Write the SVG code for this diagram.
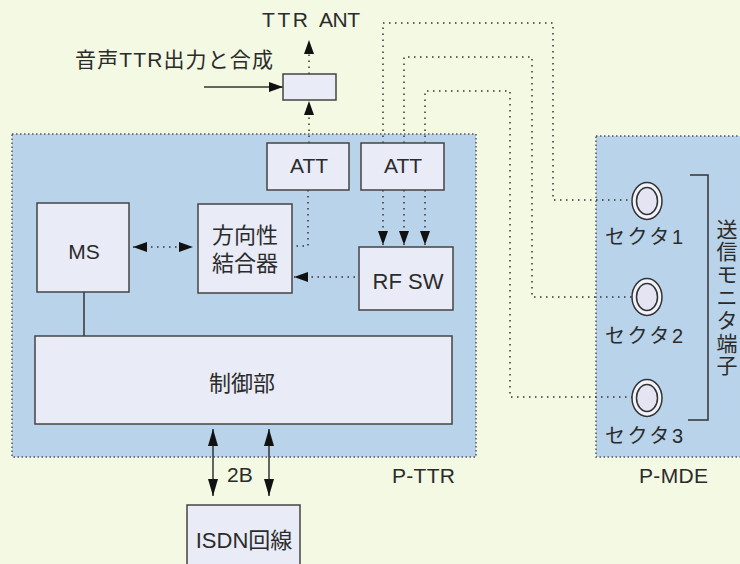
<svg xmlns="http://www.w3.org/2000/svg" width="740" height="564" viewBox="0 0 740 564">
<defs>
<style>
text{font-family:"Liberation Sans","Noto Sans CJK JP",sans-serif;fill:#2b2b2b}
.panel{fill:#b8d3ea;stroke:#555;stroke-width:1.5;stroke-dasharray:1.5 2.5}
.node{fill:#e9ebf6;stroke:#444;stroke-width:1.5}
.dot{fill:none;stroke:#333;stroke-width:1.5;stroke-dasharray:1.5 4.5}
.sol{fill:none;stroke:#333;stroke-width:1.5}
</style>
<marker id="ah" viewBox="0 0 14 10" refX="14" refY="5" markerWidth="14" markerHeight="10" markerUnits="userSpaceOnUse" orient="auto-start-reverse">
<path d="M0,0 L14,5 L0,10 z" fill="#111"/>
</marker>
<marker id="ahb" viewBox="0 0 17 10" refX="17" refY="5" markerWidth="17" markerHeight="10" markerUnits="userSpaceOnUse" orient="auto-start-reverse">
<path d="M0,0 L17,5 L0,10 z" fill="#111"/>
</marker>
</defs>
<rect width="740" height="564" fill="#f3f9e2"/>

<g id="p-ttr">
<rect class="panel" x="12" y="134" width="464" height="323"/>
<text x="392" y="483" font-size="21" textLength="63">P-TTR</text>
</g>
<g id="p-mde">
<rect class="panel" x="596" y="136" width="150" height="321"/>
<text x="639" y="483" font-size="21" textLength="69">P-MDE</text>
</g>

<g id="connectors">
<line class="dot" x1="309" y1="74" x2="309" y2="40" marker-end="url(#ah)"/>
<line class="dot" x1="309" y1="143" x2="309" y2="101" marker-end="url(#ah)"/>
<line class="sol" x1="204" y1="87" x2="283" y2="87" marker-end="url(#ah)"/>
<line class="dot" x1="133" y1="247" x2="193" y2="247" marker-start="url(#ah)" marker-end="url(#ah)"/>
<line class="dot" x1="355" y1="277" x2="294" y2="277" marker-end="url(#ah)"/>
<path class="dot" d="M308,190 V246 H292"/>
<line class="dot" x1="383" y1="190" x2="383" y2="245" marker-end="url(#ah)"/>
<line class="dot" x1="404" y1="190" x2="404" y2="245" marker-end="url(#ah)"/>
<line class="dot" x1="425" y1="190" x2="425" y2="245" marker-end="url(#ah)"/>
<path class="dot" d="M383,143 V23 H553 V200 H632"/>
<path class="dot" d="M404,143 V57 H532 V297 H632"/>
<path class="dot" d="M425,143 V91 H510 V397 H632"/>
<line class="sol" x1="84" y1="292" x2="84" y2="336"/>
<line class="sol" x1="213" y1="429" x2="213" y2="496" marker-start="url(#ahb)" marker-end="url(#ahb)"/>
<line class="sol" x1="269" y1="429" x2="269" y2="496" marker-start="url(#ahb)" marker-end="url(#ahb)"/>
<path class="sol" d="M690,175 H708 V420 H688"/>
</g>

<g id="labels">
<text font-size="21"><tspan x="262" y="27" textLength="46">TTR</tspan><tspan x="319" y="27" textLength="41">ANT</tspan></text>
<text x="75" y="67" font-size="21" textLength="198">音声TTR出力と合成</text>
<text x="227" y="482" font-size="21">2B</text>
</g>

<g id="combiner"><rect class="node" x="283" y="74" width="53" height="26"/></g>
<g id="att1"><rect class="node" x="267" y="143" width="82" height="47"/><text x="309" y="173" font-size="21" text-anchor="middle">ATT</text></g>
<g id="att2"><rect class="node" x="361" y="143" width="83" height="47"/><text x="403" y="173" font-size="21" text-anchor="middle">ATT</text></g>
<g id="ms"><rect class="node" x="37" y="203" width="92" height="89"/><text x="84" y="259" font-size="21" text-anchor="middle">MS</text></g>
<g id="coupler"><rect class="node" x="198" y="204" width="94" height="89"/>
<text x="245" y="243" font-size="22" text-anchor="middle">方向性</text>
<text x="245" y="271" font-size="22" text-anchor="middle">結合器</text></g>
<g id="rfsw"><rect class="node" x="359" y="247" width="94" height="63"/><text x="408" y="289" font-size="22" text-anchor="middle">RF SW</text></g>
<g id="control"><rect class="node" x="35" y="336" width="417" height="88"/><text x="242" y="391" font-size="22" text-anchor="middle">制御部</text></g>
<g id="isdn"><rect class="node" x="187" y="505" width="113" height="70"/><text x="244" y="548" font-size="22" text-anchor="middle">ISDN回線</text></g>

<g id="sector1">
<ellipse cx="647" cy="201" rx="15" ry="18.5" fill="#f2f3fa" stroke="#333" stroke-width="1.5"/>
<ellipse cx="647" cy="201" rx="10.5" ry="13.5" fill="#e4e4f2" stroke="#333" stroke-width="1.5"/>
<text x="605" y="244" font-size="20" textLength="78">セクタ1</text>
</g>
<g id="sector2">
<ellipse cx="647" cy="297" rx="15" ry="18.5" fill="#f2f3fa" stroke="#333" stroke-width="1.5"/>
<ellipse cx="647" cy="297" rx="10.5" ry="13.5" fill="#e4e4f2" stroke="#333" stroke-width="1.5"/>
<text x="605" y="343" font-size="20" textLength="78">セクタ2</text>
</g>
<g id="sector3">
<ellipse cx="647" cy="398" rx="15" ry="18.5" fill="#f2f3fa" stroke="#333" stroke-width="1.5"/>
<ellipse cx="647" cy="398" rx="10.5" ry="13.5" fill="#e4e4f2" stroke="#333" stroke-width="1.5"/>
<text x="605" y="443" font-size="20" textLength="78">セクタ3</text>
</g>
<g id="monitor-label">
<text font-size="21" text-anchor="middle">
<tspan x="727" y="237">送</tspan><tspan x="727" y="259">信</tspan><tspan x="727" y="282">モ</tspan><tspan x="727" y="305">ニ</tspan><tspan x="727" y="328">タ</tspan><tspan x="727" y="351">端</tspan><tspan x="727" y="373">子</tspan>
</text>
</g>
</svg>
